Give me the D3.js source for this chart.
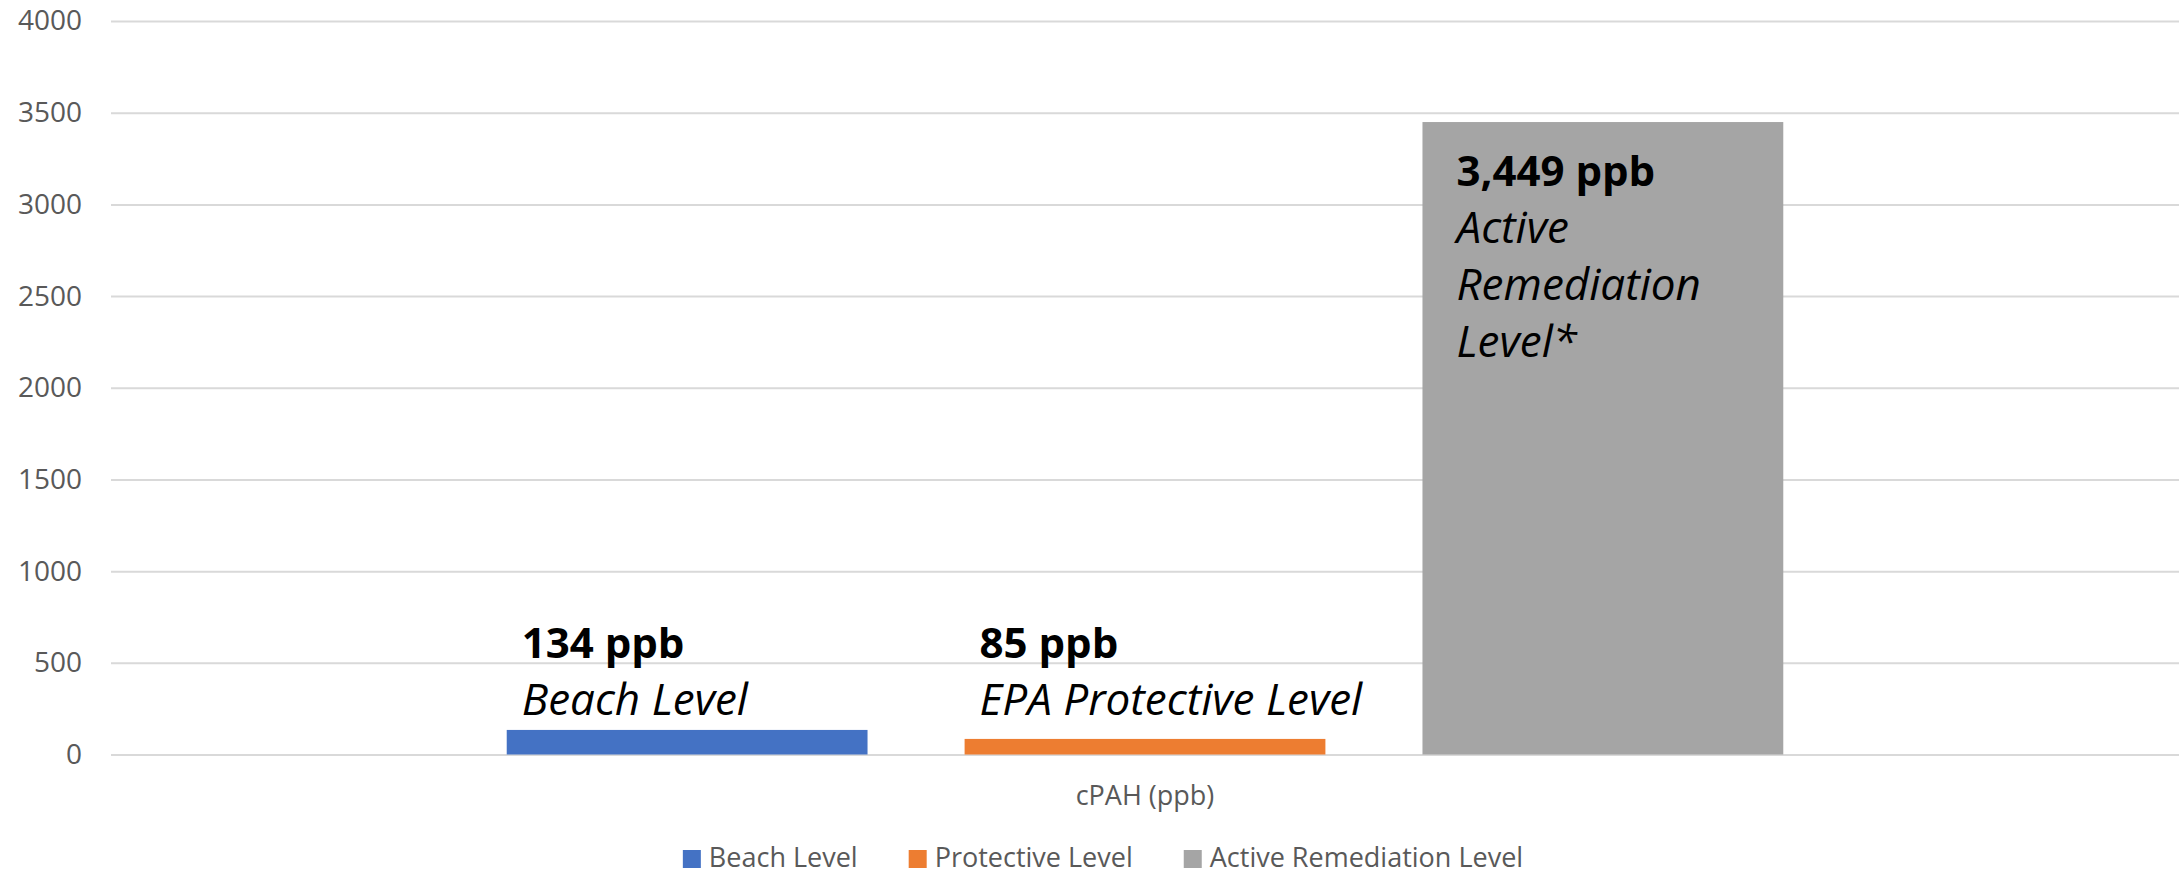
<!DOCTYPE html>
<html>
<head>
<meta charset="utf-8">
<script src="https://cdn.jsdelivr.net/npm/d3@7"></script>
<style>
  html, body { margin: 0; padding: 0; background: #fff; }
  svg { display: block; font-family: "Open Sans", "Noto Sans", sans-serif; }
</style>
</head>
<body>
<svg id="chart" width="2183" height="875"></svg>
<script>
// cPAH concentration levels (ppb)
const category = "cPAH (ppb)";
const seriesNames = ["Beach Level", "Protective Level", "Active Remediation Level"];
const seriesValues = [134, 85, 3449];
const seriesColors = ["#4472C4", "#ED7D31", "#A5A5A5"];
const labelNames = [["Beach Level"], ["EPA Protective Level"], ["Active", "Remediation", "Level*"]];
const yTicks = [0, 500, 1000, 1500, 2000, 2500, 3000, 3500, 4000];

const W = 2183, H = 875;
const plot = { left: 111, right: 2179, top: 21, bottom: 754.5 };

const svg = d3.select("#chart");

const y = d3.scaleLinear().domain([0, 4000]).range([plot.bottom, plot.top]);

// One category, three series side by side
const x0 = d3.scaleBand().domain([category]).range([plot.left, plot.right])
  .paddingInner(0).paddingOuter(0.31);
const x1 = d3.scaleBand().domain(seriesNames).range([0, x0.bandwidth()])
  .paddingInner(0.212).paddingOuter(0);

// Gridlines and tick labels
const yAxis = d3.axisLeft(y).tickValues(yTicks).tickSize(-(plot.right - plot.left)).tickPadding(29)
  .tickFormat(d3.format("d"));
const gy = svg.append("g").attr("transform", `translate(${plot.left},0)`).call(yAxis);
gy.select(".domain").remove();
gy.selectAll(".tick line").attr("stroke", "#D9D9D9").attr("stroke-width", 2);
gy.selectAll(".tick text")
  .attr("fill", "#595959")
  .style("font-size", "28px")
  .style("font-family", "'Open Sans', sans-serif");

// Bars
const data = seriesNames.map((name, i) => ({
  name, value: seriesValues[i], color: seriesColors[i], lines: labelNames[i]
}));

const g = svg.append("g").attr("transform", `translate(${x0(category)},0)`);
g.selectAll("rect.bar").data(data).join("rect")
  .attr("class", "bar")
  .attr("x", d => x1(d.name))
  .attr("y", d => y(d.value))
  .attr("width", x1.bandwidth())
  .attr("height", d => y(0) - y(d.value))
  .attr("fill", d => d.color);

// Data labels: value in bold, description in italics
const fmt = d3.format(",");
const lineH = 57;
const shortMax = d3.max(data.filter(d => d.value < 1000), d => d.value);
data.forEach(d => {
  const inside = d.value >= 1000;
  const lines = [fmt(d.value) + " ppb"].concat(d.lines);
  const x = x1(d.name) + (inside ? 34 : 15);
  const firstBase = inside
    ? y(d.value) + 64
    : y(shortMax) - 15 - (lines.length - 1) * lineH;
  const t = g.append("text")
    .attr("x", x)
    .attr("y", firstBase)
    .attr("fill", "#000");
  lines.forEach((ln, k) => {
    t.append("tspan")
      .attr("x", x)
      .attr("dy", k === 0 ? 0 : lineH)
      .style("font-size", k === 0 ? "42px" : "44px")
      .style("font-weight", k === 0 ? "bold" : "normal")
      .style("font-style", k === 0 ? "normal" : "italic")
      .text(ln);
  });
});

// Category axis title
svg.append("text")
  .attr("x", x0(category) + x0.bandwidth() / 2)
  .attr("y", 805)
  .attr("text-anchor", "middle")
  .attr("fill", "#595959")
  .style("font-size", "27px")
  .text(category);

// Legend
const legend = svg.append("g");
const sw = 18, textGap = 8, itemGap = 51;
let cx = 0;
seriesNames.forEach((name, i) => {
  const it = legend.append("g").attr("transform", `translate(${cx},0)`);
  it.append("rect").attr("x", 0).attr("y", -17).attr("width", sw).attr("height", sw)
    .attr("fill", seriesColors[i]);
  const tx = it.append("text").attr("x", sw + textGap).attr("y", 0)
    .attr("fill", "#595959").style("font-size", "27px").text(name);
  const w = tx.node().getComputedTextLength();
  cx += sw + textGap + w + itemGap;
});
const legendWidth = cx - itemGap;
legend.attr("transform", `translate(${1103 - legendWidth / 2},867)`);
</script>
</body>
</html>
